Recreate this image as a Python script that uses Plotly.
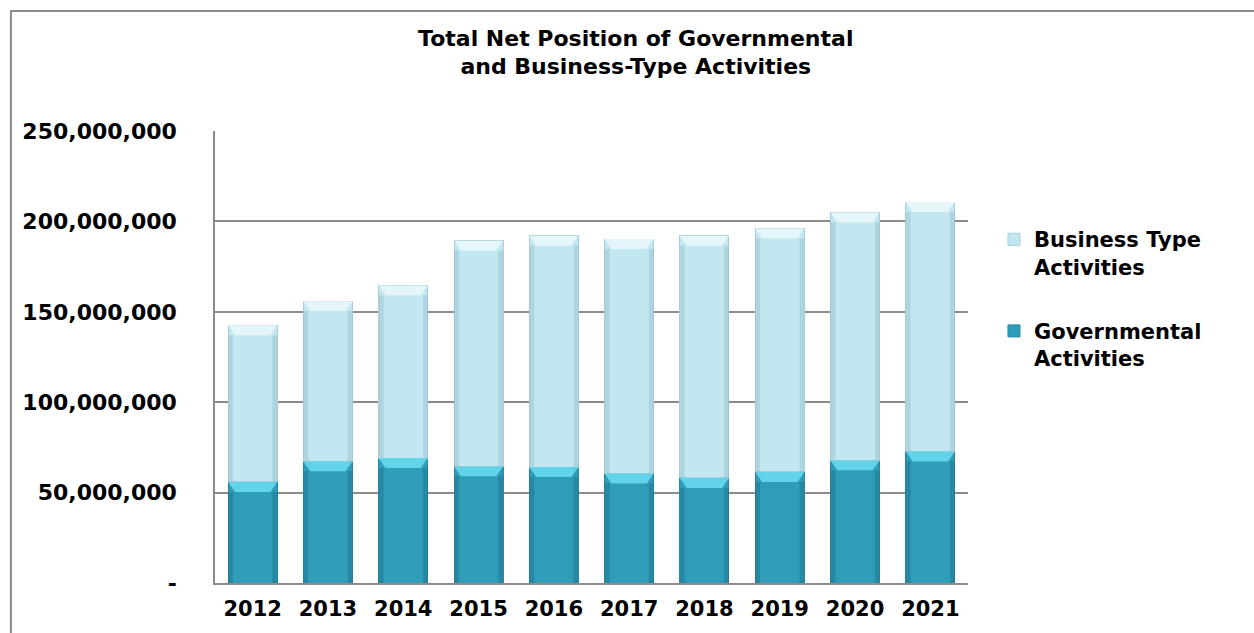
import plotly.graph_objects as go

years = ["2012", "2013", "2014", "2015", "2016", "2017", "2018", "2019", "2020", "2021"]
governmental = [55.9e6, 67.3e6, 69.1e6, 64.5e6, 64.1e6, 60.5e6, 58.1e6, 61.4e6, 67.8e6, 72.7e6]
total_net = [142.5e6, 155.9e6, 164.6e6, 189.3e6, 192.0e6, 190.2e6, 192.0e6, 196.1e6, 204.9e6, 210.7e6]
business = [t - g for t, g in zip(total_net, governmental)]

tick_vals = [0, 50e6, 100e6, 150e6, 200e6, 250e6]
tick_text = ["-", "50,000,000", "100,000,000", "150,000,000", "200,000,000", "250,000,000"]

FONT = "DejaVu Sans"
GOV = "#2f9cba"
GOV_EDGE = "#2a86a0"
GOV_CAP = "#62d4ea"
BUS = "#c2e7f1"
BUS_EDGE = "#a8cfda"
BUS_CAP = "#e4f6fa"

fig = go.Figure()
fig.add_trace(go.Bar(
    x=years, y=governmental, name="Governmental<br>Activities",
    legendgroup="gov", legendrank=2,
    marker=dict(color=GOV, line=dict(color=GOV_EDGE, width=1)),
))
fig.add_trace(go.Bar(
    x=years, y=business, name="Business Type<br>Activities",
    legendgroup="bus", legendrank=1,
    marker=dict(color=BUS, line=dict(color=BUS_EDGE, width=1)),
))

# bevelled tops and shaded sides for each stacked segment
half = 0.325
inset = 0.09
cap_h = 5.5e6
shapes = []
for i in range(len(years)):
    segs = [(0, governmental[i], GOV_CAP, "rgba(20,90,110,0.30)"),
            (governmental[i], total_net[i], BUS_CAP, "rgba(110,160,175,0.25)")]
    for base, top, cap, side in segs:
        # side shading strips
        shapes.append(dict(type="rect", xref="x", yref="y",
                           x0=i - half, x1=i - half + inset * 0.7, y0=base, y1=top - cap_h,
                           fillcolor=side, line=dict(width=0), layer="above"))
        shapes.append(dict(type="rect", xref="x", yref="y",
                           x0=i + half - inset * 0.7, x1=i + half, y0=base, y1=top - cap_h,
                           fillcolor=side, line=dict(width=0), layer="above"))
        path = (f"M {i - half} {top} L {i + half} {top} "
                f"L {i + half - inset} {top - cap_h} L {i - half + inset} {top - cap_h} Z")
        shapes.append(dict(type="path", xref="x", yref="y", path=path,
                           fillcolor=cap, line=dict(width=0), layer="above"))

# outer chart border
shapes.append(dict(type="rect", xref="paper", yref="paper",
                   x0=-0.271, x1=1.6, y0=-0.3, y1=1.2654,
                   line=dict(color="#8c8c8c", width=2), fillcolor="rgba(0,0,0,0)", layer="below"))

fig.update_layout(
    barmode="stack",
    bargap=0.35,
    width=1254, height=633,
    margin=dict(l=215, r=286, t=131, b=46),
    paper_bgcolor="white", plot_bgcolor="white",
    font=dict(family=FONT, size=20, color="black"),
    title=dict(text="<b>Total Net Position of Governmental<br>and Business-Type Activities</b>",
               x=0.507, xanchor="center", y=0.928, yanchor="top",
               font=dict(family=FONT, size=22)),
    shapes=shapes,
    legend=dict(x=1.0345, y=0.805, xanchor="left", yanchor="top", valign="top",
                traceorder="grouped", font=dict(family=FONT, size=21, weight="bold"),
                tracegroupgap=34, itemwidth=30, bgcolor="rgba(0,0,0,0)"),
    showlegend=True,
)
fig.update_yaxes(
    range=[0, 250e6], tickvals=tick_vals, ticktext=tick_text,
    showgrid=True, gridcolor="#8c8c8c", gridwidth=1.5,
    showline=True, linecolor="#8c8c8c", linewidth=1.5,
    ticks="", ticklabelstandoff=32,
    tickfont=dict(family=FONT, size=22, weight="bold"), zeroline=False,
)
fig.update_xaxes(
    showline=True, linecolor="#8c8c8c", linewidth=1.5,
    ticks="", ticklabelstandoff=6,
    tickfont=dict(family=FONT, size=21, weight="bold"),
)

fig.write_html("out.html")
